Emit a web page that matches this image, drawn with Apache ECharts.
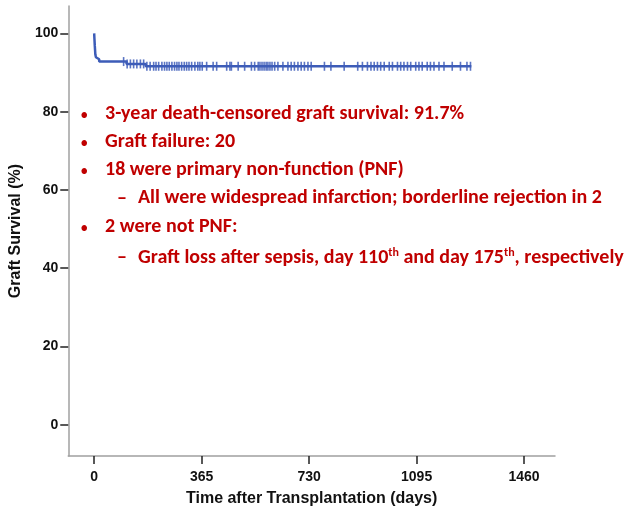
<!DOCTYPE html>
<html>
<head>
<meta charset="utf-8">
<script src="https://cdn.jsdelivr.net/npm/echarts@6/dist/echarts.min.js"></script>
<style>html,body{margin:0;padding:0;background:#fff}#c{width:628px;height:512px}</style>
</head>
<body>
<div id="c"></div>
<script>
// Kaplan-Meier step function: event times (days) and survival (%)
var eventDays = [0, 1, 2, 3, 4, 6, 8, 17, 110, 175, 1281];
var survival  = [100, 98.5, 97, 95.8, 94.6, 93.9, 93.4, 92.8, 92.2, 91.6, 91.6];
// censored observation times (days)
var censorDays = [100,112,123,134,145,157,168,179,190,202,210,219,230,239,247,255,264,273,281,288,297,306,314,322,331,342,352,359,367,382,404,416,450,461,466,489,511,534,545,557,563,570,577,584,590,597,604,613,624,641,658,669,680,692,703,714,726,737,782,804,849,895,911,928,940,951,962,973,985,1002,1013,1030,1041,1052,1064,1075,1092,1103,1114,1131,1142,1154,1171,1188,1216,1244,1266,1278];
var xTicks = [0, 365, 730, 1095, 1460];
var yTicks = [0, 20, 40, 60, 80, 100];
var notes = [
  {type: 'bullet', text: '3-year death-censored graft survival: 91.7%'},
  {type: 'bullet', text: 'Graft failure: 20'},
  {type: 'bullet', text: '18 were primary non-function (PNF)'},
  {type: 'dash',   text: 'All were widespread infarction; borderline rejection in 2'},
  {type: 'bullet', text: '2 were not PNF:'},
  {type: 'dash',   text: 'Graft loss after sepsis, day 110{sup|th} and day 175{sup|th}, respectively'}
];

function survAt(t) {
  var s = survival[0];
  for (var i = 0; i < eventDays.length; i++) { if (eventDays[i] <= t) s = survival[i]; }
  return s;
}
var lineData = eventDays.map(function (d, i) { return [d, survival[i]]; });
var censorData = censorDays.map(function (d) { return [d, survAt(d)]; });

var red = '#c00000';
var fontT = '"Liberation Sans", Arial, sans-serif';
var noteFont = 'Carlito, Calibri, "Open Sans", sans-serif';
var lineY = [116, 144, 172, 200, 229, 259];
var graphics = [];
notes.forEach(function (n, i) {
  var isB = n.type === 'bullet';
  graphics.push({
    type: 'text', left: isB ? 81 : 117, top: lineY[i] - (isB ? 7 : 11),
    style: {text: isB ? '•' : '–', fill: red, font: (isB ? 'bold 13px ' : 'bold 20px ') + noteFont}
  });
  graphics.push({
    type: 'text', left: isB ? 105 : 138, top: lineY[i] - 12,
    style: {
      text: n.text, fill: red, font: 'bold 20px ' + noteFont,
      rich: {sup: {fontSize: 12, fontWeight: 'bold', fill: red, verticalAlign: 'top', padding: [0, 0, 9, 0], fontFamily: noteFont}}
    }
  });
});

var chart = echarts.init(document.getElementById('c'), null, {renderer: 'canvas'});
chart.setOption({
  animation: false,
  backgroundColor: '#fff',
  grid: {left: 66, right: 73, top: 6, bottom: 50, containLabel: false},
  xAxis: {
    type: 'value', min: -88, max: 1565,
    name: 'Time after Transplantation (days)', nameLocation: 'middle', nameGap: 35,
    nameTextStyle: {color: '#111', fontWeight: 'bold', fontSize: 16, fontFamily: fontT},
    axisLine: {show: true, onZero: false, lineStyle: {color: '#a0a0a0', width: 1.5}},
    axisTick: {show: true, inside: false, length: 8, customValues: xTicks, lineStyle: {color: '#222', width: 1.5}},
    axisLabel: {customValues: xTicks, color: '#111', fontWeight: 'bold', fontSize: 14, fontFamily: fontT, margin: 14,
      formatter: function (v) { return String(v); }},
    splitLine: {show: false}
  },
  yAxis: {
    type: 'value', min: -8, max: 107,
    name: 'Graft Survival (%)', nameLocation: 'middle', nameGap: 44, nameRotate: 90,
    nameTextStyle: {color: '#111', fontWeight: 'bold', fontSize: 16, fontFamily: fontT},
    axisLine: {show: true, onZero: false, lineStyle: {color: '#a0a0a0', width: 1.5}},
    axisTick: {show: true, inside: false, length: 8, customValues: yTicks, lineStyle: {color: '#222', width: 1.5}},
    axisLabel: {customValues: yTicks, color: '#111', fontWeight: 'bold', fontSize: 14, fontFamily: fontT, margin: 10,
      formatter: function (v) { return String(v); }},
    splitLine: {show: false}
  },
  series: [
    {
      type: 'line', step: 'end', data: lineData, symbol: 'none',
      lineStyle: {color: '#3d5cb8', width: 2.5}
    },
    {
      type: 'scatter', data: censorData, symbol: 'rect', symbolSize: [1.6, 9],
      itemStyle: {color: '#3d5cb8', opacity: 0.85}
    }
  ],
  graphic: graphics
});
</script>
</body>
</html>
